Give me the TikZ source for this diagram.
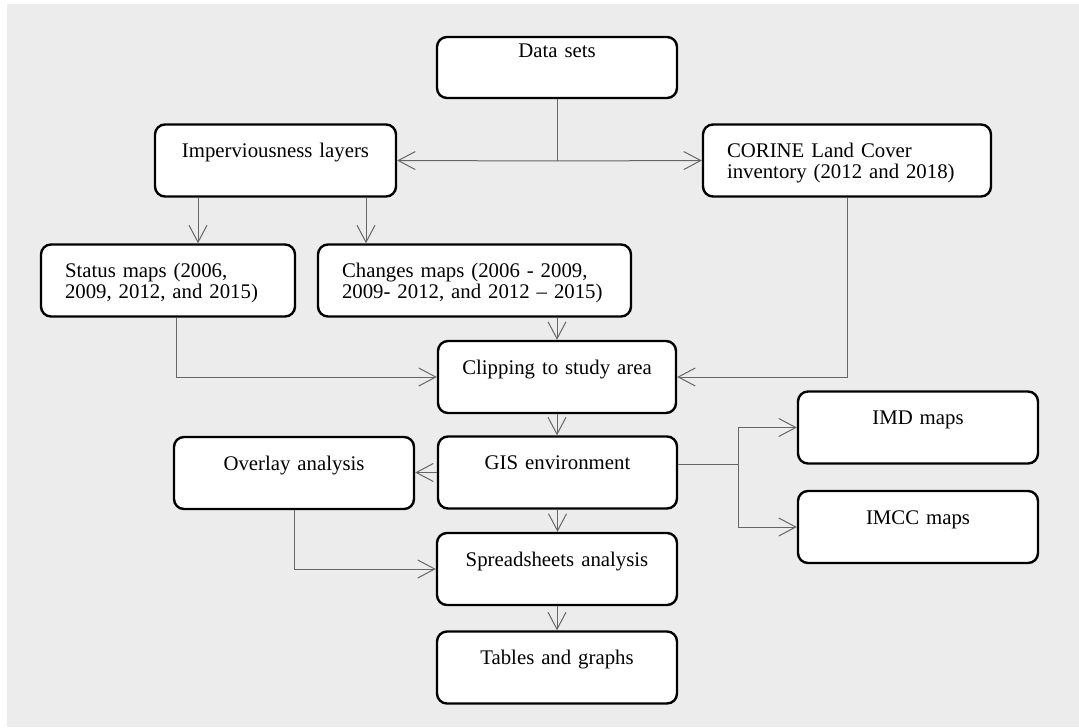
\documentclass[tikz,border=0pt]{standalone}
\usepackage{fontspec}
\setmainfont{Liberation Serif}
\usetikzlibrary{arrows.meta,calc}
\definecolor{BackClr}{HTML}{ECECEC}
\definecolor{LineClr}{HTML}{666666}

\begin{document}
\begin{tikzpicture}[x=.5pt,y=-.5pt,
  box/.style={draw=black,fill=white,line width=1.2pt,rounded corners=5pt,
    inner xsep=2pt,inner ysep=0pt,text height=16.5pt,text depth=19.5pt,
    align=center,font=\fontsize{10.4}{10.5}\selectfont},
  twoline/.style={box,inner xsep=12pt,align=left},
  link/.style={draw=LineClr,line width=.5pt},
  arr/.style={link,-{Straight Barb[length=8.5pt,width=9pt]}}]
\useasboundingbox (0,0) rectangle (1079,727);
\fill[BackClr] (7,4) rectangle (1079,727);

\node[box,text width=116pt,text height=10.5pt,text depth=20pt] (data) at (557,67.5) {Data sets};
\node[box,text width=116.5pt] (imp) at (275.5,160.5) {Imperviousness layers};
\node[twoline,text width=120pt] (corine) at (847,160.5) {CORINE Land Cover\\inventory (2012 and 2018)};
\node[twoline,text width=103pt] (status) at (168,280.5) {Status maps (2006,\\2009, 2012, and 2015)};
\node[twoline,text width=132.5pt] (changes) at (474.5,280.5) {Changes maps (2006 - 2009,\\2009- 2012, and 2012 -- 2015)};
\node[box,text width=115pt] (clip) at (557,377) {Clipping to study area};
\node[box,text width=115.5pt] (gis) at (557.5,472.5) {GIS environment};
\node[box,text width=116pt] (overlay) at (294,473) {Overlay analysis};
\node[box,text width=116pt] (spread) at (557,569) {Spreadsheets analysis};
\node[box,text width=116pt] (tables) at (557,667.5) {Tables and graphs};
\node[box,text width=116pt] (imd) at (918,427.5) {IMD maps};
\node[box,text width=116pt] (imcc) at (918,527) {IMCC maps};

\coordinate (split1) at (557,161);
\coordinate (split2) at (738,464);
\coordinate (leftdrop) at (198,0);
\coordinate (rightdrop) at (366,0);
\coordinate (statusdrop) at (176,0);

\draw[link] (data.south) -- (split1);
\draw[arr] (split1) -- (imp.east);
\draw[arr] (split1) -- (corine.west);
\draw[arr] (imp.south -| leftdrop) -- (status.north -| leftdrop);
\draw[arr] (imp.south -| rightdrop) -- (changes.north -| rightdrop);
\draw[arr] (changes.south -| clip.north) -- (clip.north);
\draw[arr] (status.south -| statusdrop) |- (clip.west);
\draw[arr] (corine.south) |- (clip.east);
\draw[arr] (clip.south) -- (clip.south |- gis.north);
\draw[arr] (gis.west) -- (gis.west -| overlay.east);
\draw[link] (split2 -| gis.east) -- (split2);
\draw[arr] (split2) |- (imd.west);
\draw[arr] (split2) |- (imcc.west);
\draw[arr] (gis.south) -- (gis.south |- spread.north);
\draw[arr] (overlay.south) |- (spread.west);
\draw[arr] (spread.south) -- (tables.north);
\end{tikzpicture}
\end{document}
